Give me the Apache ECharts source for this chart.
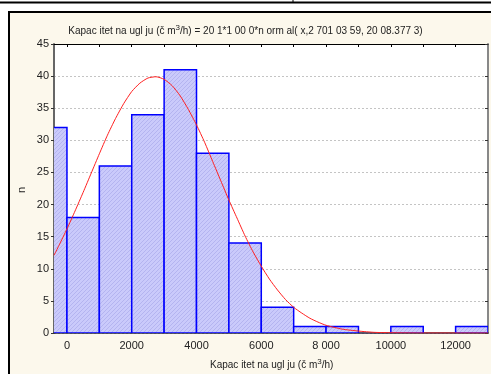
<!DOCTYPE html>
<html>
<head>
<meta charset="utf-8">
<script src="https://cdn.jsdelivr.net/npm/echarts@6/dist/echarts.min.js"></script>
<style>
  html, body { margin: 0; padding: 0; background: #fff; }
  #chart { width: 491px; height: 374px; }
</style>
</head>
<body>
<div id="chart"></div>
<script>
// histogram bins (start of each 1000-wide class) and counts
var binStarts = [-1000, 0, 1000, 2000, 3000, 4000, 5000, 6000, 7000, 8000, 9000, 10000, 11000, 12000];
var counts = [32, 18, 26, 34, 41, 28, 14, 4, 1, 1, 0, 1, 0, 1];
var binWidth = 1000;

// fitted curve
var curveX = [-400, -250, 0, 250, 500, 750, 1000, 1250, 1500, 1750, 2000, 2250, 2500, 2750, 3000, 3250, 3500, 3750, 4000, 4250, 4500, 4750, 5000, 5250, 5500, 5750, 6000, 6250, 6500, 6750, 7000, 7250, 7500, 7750, 8000, 8500, 9000, 9500, 10000, 11000, 13000];
var curveY = [12.1, 13.6, 16.2, 19.0, 21.9, 24.9, 27.9, 30.8, 33.4, 35.7, 37.6, 38.9, 39.7, 39.9, 39.5, 38.5, 36.9, 34.8, 32.4, 29.7, 26.7, 23.7, 20.7, 17.9, 15.1, 12.6, 10.4, 8.4, 6.7, 5.2, 4.0, 3.1, 2.3, 1.7, 1.2, 0.6, 0.3, 0.1, 0.05, 0, 0];

var xLabelValues = [0, 2000, 4000, 6000, 8000, 10000, 12000];
var xLabelTexts = ['0', '2000', '4000', '6000', '8 000', '10000', '12000'];
var xTopTicks = [0, 1000, 2000, 3000, 4000, 5000, 6000, 7000, 8000, 9000, 10000, 11000, 12000];

// hatched fill like the original
var pat = document.createElement('canvas');
pat.width = 4; pat.height = 4;
var pc = pat.getContext('2d');
pc.fillStyle = '#CACAFB';
pc.fillRect(0, 0, 4, 4);
pc.strokeStyle = '#B4B4F0';
pc.lineWidth = 1;
pc.beginPath();
pc.moveTo(0, 4); pc.lineTo(4, 0);
pc.stroke();

var bars = binStarts.map(function (s, i) { return [s, s + binWidth, counts[i]]; });
var curve = curveX.map(function (x, i) { return [x, curveY[i]]; });

var chart = echarts.init(document.getElementById('chart'));
var option = {
  animation: false,
  backgroundColor: '#fff',
  graphic: [
    { type: 'line', shape: { x1: 0, y1: 2.5, x2: 491, y2: 2.5 }, style: { stroke: '#000', lineWidth: 2 }, z: -1 },
    { type: 'line', shape: { x1: 293, y1: 0, x2: 293, y2: 3 }, style: { stroke: '#000', lineWidth: 1 }, z: -1 },
    { type: 'rect', shape: { x: 9, y: 12, width: 490, height: 370 }, style: { fill: '#FCF8EC', stroke: '#000', lineWidth: 2 }, z: -10 },
    {
      type: 'text', left: 'center', top: 24, z: 5,
      style: {
        text: '{t|Kapac itet na ugl ju (č m}{s|3}{t|/h) = 20 1*1 00 0*n orm al( x,2 701 03 59, 20 08.377 3)}',
        rich: {
          t: { fontFamily: 'Liberation Sans, Arial', fontSize: 10, fill: '#222', padding: [6, 0, 0, 0] },
          s: { fontFamily: 'Liberation Sans, Arial', fontSize: 8, fill: '#222' }
        }
      }
    },
    {
      type: 'text', left: 210, top: 358, z: 5,
      style: {
        text: '{t|Kapac itet na ugl ju (č m}{s|3}{t|/h)}',
        rich: {
          t: { fontFamily: 'Liberation Sans, Arial', fontSize: 10, fill: '#222', padding: [6, 0, 0, 0] },
          s: { fontFamily: 'Liberation Sans, Arial', fontSize: 8, fill: '#222' }
        }
      }
    },
    {
      type: 'text', x: 22, y: 190, rotation: Math.PI / 2, z: 5,
      style: { text: 'n', fontFamily: 'Liberation Sans, Arial', fontSize: 11, fill: '#222', align: 'center', verticalAlign: 'middle' }
    }
  ],
  grid: { left: 54, right: 3, top: 44, bottom: 41, show: true, backgroundColor: '#fff', borderWidth: 0 },
  xAxis: [
    {
      type: 'value', min: -400, max: 13000, position: 'bottom',
      axisLine: { show: true, onZero: false, lineStyle: { color: '#202040', width: 1.5 } },
      axisTick: { show: false },
      splitLine: { show: false },
      axisLabel: {
        color: '#222', fontSize: 11, fontFamily: 'Liberation Sans, Arial', margin: 7,
        customValues: xLabelValues,
        formatter: function (v) { var i = xLabelValues.indexOf(v); return i >= 0 ? xLabelTexts[i] : ''; }
      }
    },
    {
      type: 'value', min: -400, max: 13000, position: 'top',
      axisLine: { show: true, onZero: false, lineStyle: { color: '#000', width: 1 } },
      axisTick: { show: true, inside: true, length: 3, customValues: xTopTicks, lineStyle: { color: '#000' } },
      axisLabel: { show: true, customValues: xTopTicks, color: 'rgba(0,0,0,0)', fontSize: 1 },
      splitLine: { show: false }
    }
  ],
  yAxis: [
    {
      type: 'value', min: 0, max: 45, interval: 5,
      axisLine: { show: true, onZero: false, lineStyle: { color: '#666', width: 2 } },
      axisTick: { show: true, length: 3, lineStyle: { color: '#333' } },
      axisLabel: { color: '#222', fontSize: 11, fontFamily: 'Liberation Sans, Arial', margin: 5 },
      splitLine: { show: true, lineStyle: { color: '#c4c4c4', type: [2, 2], width: 1 } }
    },
    {
      type: 'value', min: 0, max: 45, interval: 5, position: 'right',
      axisLine: { show: true, onZero: false, lineStyle: { color: '#888', width: 2 } },
      axisTick: { show: true, inside: true, length: 3, lineStyle: { color: '#333' } },
      axisLabel: { show: false },
      splitLine: { show: false }
    }
  ],
  series: [
    {
      type: 'custom',
      clip: true,
      data: bars,
      renderItem: function (params, api) {
        var p0 = api.coord([api.value(0), api.value(2)]);
        var p1 = api.coord([api.value(1), 0]);
        if (api.value(2) <= 0) return;
        return {
          type: 'rect',
          shape: { x: p0[0], y: p0[1], width: p1[0] - p0[0], height: p1[1] - p0[1] },
          style: { fill: { image: pat, repeat: 'repeat' }, stroke: '#0000FF', lineWidth: 1.5 }
        };
      },
      z: 2
    },
    {
      type: 'line',
      data: curve,
      showSymbol: false,
      smooth: 0.2,
      lineStyle: { color: '#FF2020', width: 1 },
      z: 3
    }
  ]
};
chart.setOption(option);
</script>
</body>
</html>
